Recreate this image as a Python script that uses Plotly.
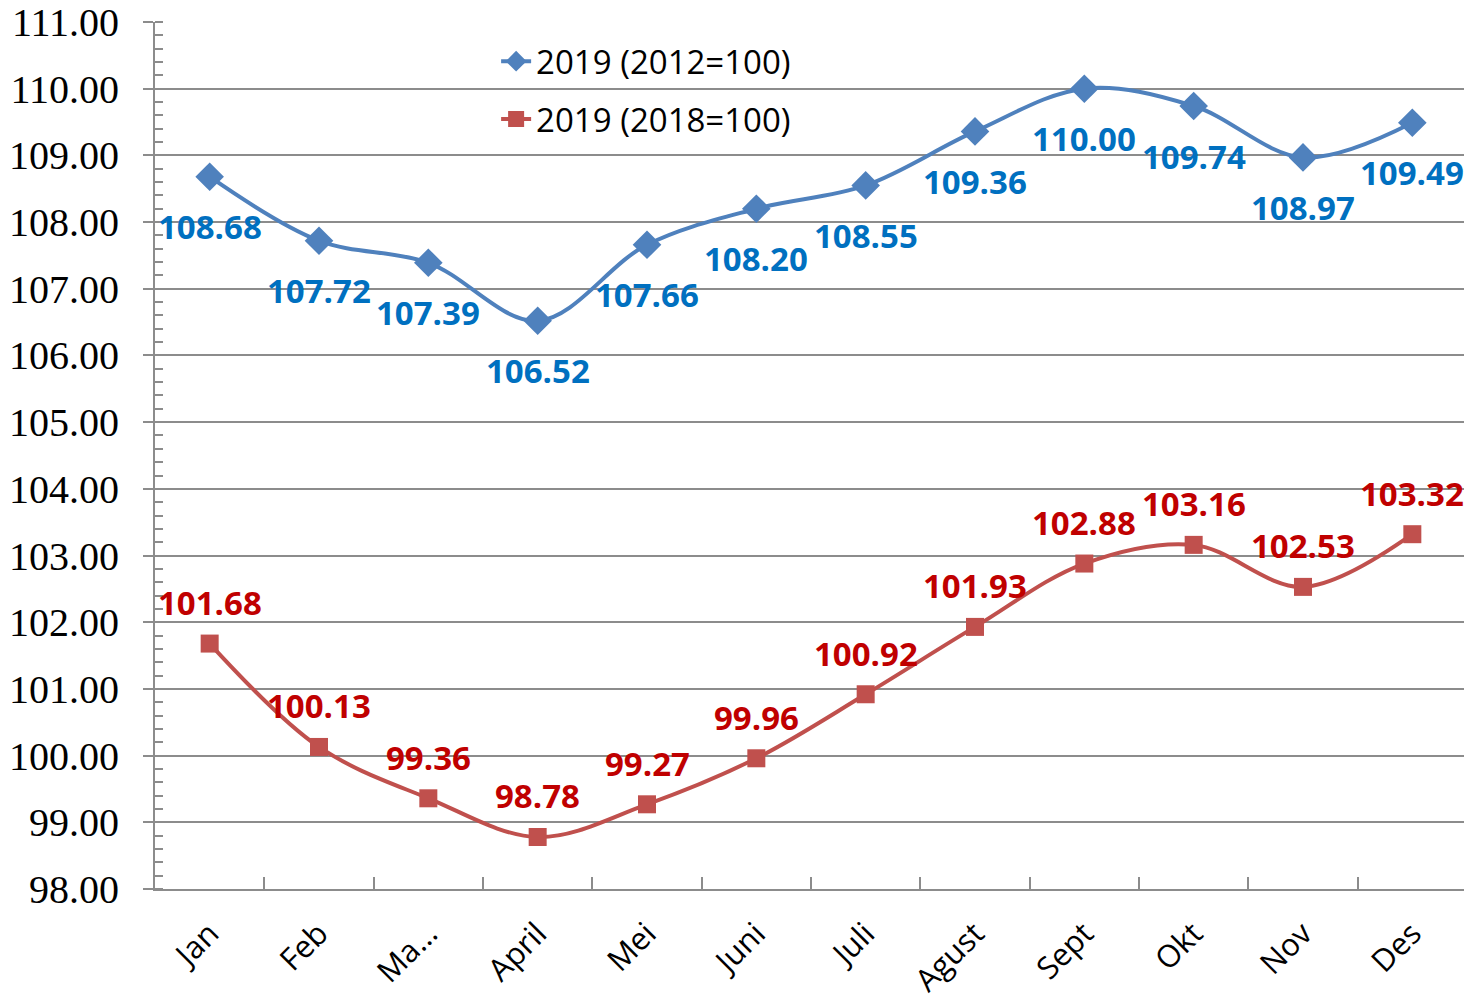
import plotly.graph_objects as go

months = ["Jan", "Feb", "Ma…", "April", "Mei", "Juni", "Juli", "Agust", "Sept", "Okt", "Nov", "Des"]
s2012 = [108.68, 107.72, 107.39, 106.52, 107.66, 108.20, 108.55, 109.36, 110.00, 109.74, 108.97, 109.49]
s2018 = [101.68, 100.13, 99.36, 98.78, 99.27, 99.96, 100.92, 101.93, 102.88, 103.16, 102.53, 103.32]
name2012 = "2019 (2012=100)"
name2018 = "2019 (2018=100)"

blue_line = "#4F81BD"
red_line = "#C0504D"
blue_lbl = "#0070C0"
red_lbl = "#C00000"
grid = "#8C8C8C"

fig = go.Figure()
fig.add_trace(go.Scatter(
    x=months, y=s2012, name=name2012, mode="lines+markers",
    line=dict(color=blue_line, width=4, shape="spline", smoothing=1),
    marker=dict(symbol="diamond", size=22, color=blue_line),
    legendgroup="a",
))
fig.add_trace(go.Scatter(
    x=months, y=s2018, name=name2018, mode="lines+markers",
    line=dict(color=red_line, width=4, shape="spline", smoothing=1),
    marker=dict(symbol="square", size=18, color=red_line),
    legendgroup="b",
))

for m, v in zip(months, s2012):
    fig.add_annotation(x=m, y=v, text=f"{v:.2f}", showarrow=False, yshift=-50,
                       font=dict(family="Open Sans", size=33, color=blue_lbl, weight="bold"))
for m, v in zip(months, s2018):
    fig.add_annotation(x=m, y=v, text=f"{v:.2f}", showarrow=False, yshift=41,
                       font=dict(family="Open Sans", size=33, color=red_lbl, weight="bold"))

fig.update_layout(
    width=1464, height=991,
    margin=dict(l=147, r=5, t=14, b=110),
    paper_bgcolor="white", plot_bgcolor="white",
    showlegend=True,
    legend=dict(x=0.26, y=0.987, xanchor="left", yanchor="top",
                bgcolor="rgba(255,255,255,0)", tracegroupgap=12,
                font=dict(family="Open Sans", size=33, color="black")),
    xaxis=dict(
        type="category", showgrid=False, showline=True, linecolor=grid, linewidth=2,
        ticks="inside", tickson="boundaries", ticklen=12, tickwidth=2, tickcolor=grid,
        tickangle=-45, tickfont=dict(family="Open Sans", size=31, color="black"),
        ticklabelstandoff=12,
        range=[-0.5, 11.5], automargin=False,
    ),
    yaxis=dict(
        range=[98, 111], dtick=1, tick0=98, tickformat=".2f",
        showgrid=True, gridcolor=grid, gridwidth=2,
        showline=True, linecolor=grid, linewidth=2,
        ticks="outside", ticklen=10, tickwidth=2, tickcolor=grid,
        ticklabelstandoff=16, ticklabeloverflow="allow",
        tickfont=dict(family="Liberation Serif", size=40, color="black"),
        minor=dict(ticks="inside", dtick=0.2, ticklen=8, tickwidth=2, tickcolor=grid, showgrid=False),
        zeroline=False, automargin=False,
    ),
)

fig.write_html("out.html")
